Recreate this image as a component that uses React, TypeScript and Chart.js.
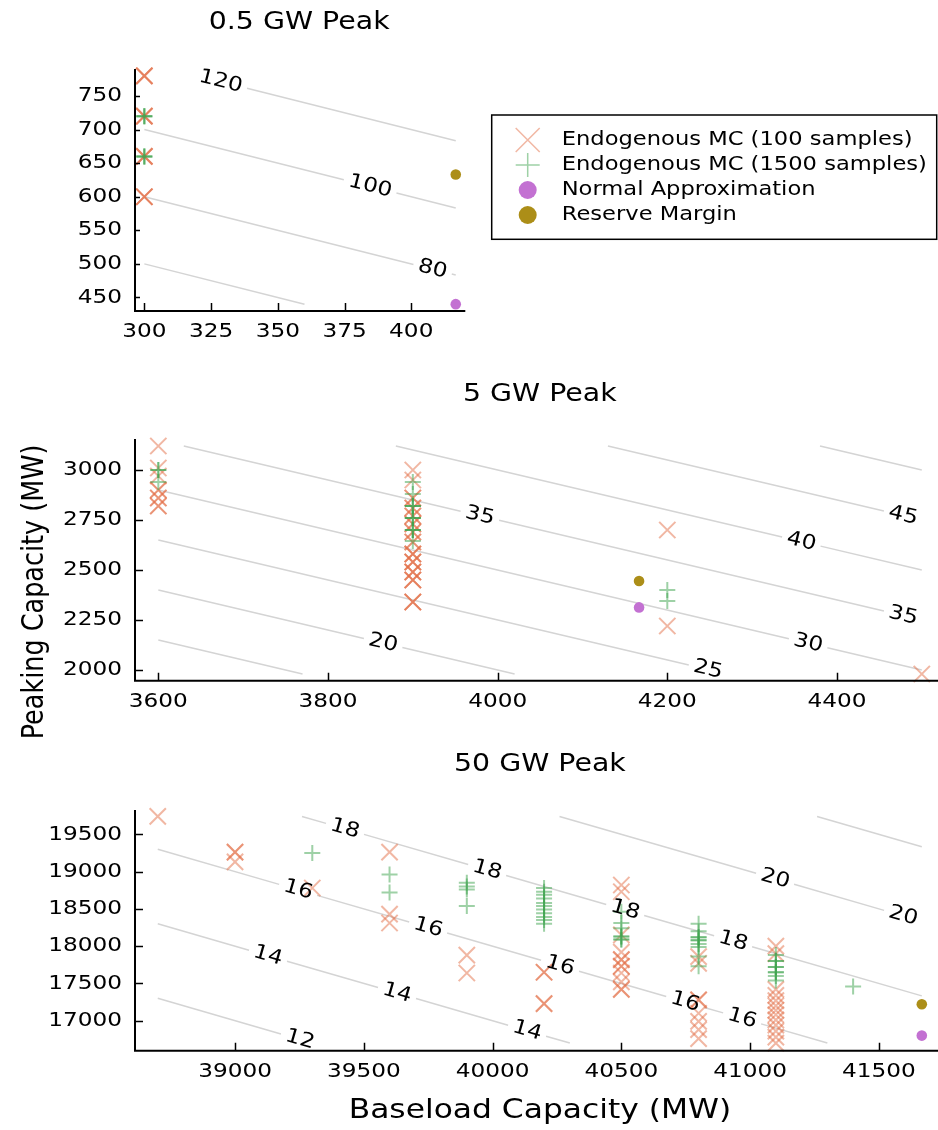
import React, { useEffect, useRef } from "react";
import { Chart, registerables } from "chart.js";

Chart.register(...registerables);

const FONT = '"DejaVu Sans", sans-serif';
const TEXT_SX = 1.16; // glyphs are drawn slightly widened
const LEGEND_SX = 1.13;
const MC100_COLOR = "rgba(227, 111, 71, 0.5)";
const MC1500_COLOR = "rgba(62, 164, 78, 0.5)";
const NORMAL_COLOR = "#C371D2";
const RESERVE_COLOR = "#AC8E18";
const CONTOUR_COLOR = "#d4d4d4";

const LEGEND_LABELS = [
  "Endogenous MC (100 samples)",
  "Endogenous MC (1500 samples)",
  "Normal Approximation",
  "Reserve Margin",
];
const X_TITLE = "Baseload Capacity (MW)";
const Y_TITLE = "Peaking Capacity (MW)";

// ---------- 0.5 GW peak ----------
const p1Title = "0.5 GW Peak";
const p1XTicks = [300, 325, 350, 375, 400];
const p1YTicks = [450, 500, 550, 600, 650, 700, 750];
const p1Mc100Base = [300, 300, 300, 300];
const p1Mc100Peak = [780, 720, 660, 600];
const p1Mc100Count = [3, 3, 3, 3];
const p1Mc1500Base = [300, 300];
const p1Mc1500Peak = [720, 660];
const p1Mc1500Count = [3, 3];
const p1Normal = [416.67, 440];
const p1Reserve = [416.67, 633];
const p1Levels = [60, 80, 100, 120];
const p1From = [[300, 500], [300, 600], [300, 700], [320, 780]];
const p1To = [[360, 440], [416.67, 483.33], [416.67, 583.33], [416.67, 683.33]];
const p1LabelAt = [[], [408], [384.6], [328.6]];

// ---------- 5 GW peak ----------
const p2Title = "5 GW Peak";
const p2XTicks = [3600, 3800, 4000, 4200, 4400];
const p2YTicks = [2000, 2250, 2500, 2750, 3000];
const p2Mc100Base = [
  3600, 3600, 3600, 3600, 3600, 3600,
  3900, 3900, 3900, 3900, 3900, 3900, 3900, 3900, 3900, 3900, 3900, 3900, 3900,
  4200, 4200, 4500,
];
const p2Mc100Peak = [
  3120, 3010, 2970, 2900, 2860, 2820,
  3000, 2950, 2860, 2810, 2770, 2730, 2690, 2640, 2580, 2540, 2490, 2450, 2340,
  2700, 2220, 1980,
];
const p2Mc100Count = [
  1, 1, 1, 2, 2, 2,
  1, 1, 2, 2, 2, 2, 2, 2, 3, 3, 3, 3, 3,
  1, 1, 1,
];
const p2Mc1500Base = [3600, 3600, 3900, 3900, 3900, 3900, 3900, 3900, 4200, 4200];
const p2Mc1500Peak = [3000, 2940, 2940, 2880, 2820, 2760, 2700, 2645, 2400, 2345];
const p2Mc1500Count = [2, 1, 1, 1, 3, 3, 3, 1, 1, 1];
const p2Normal = [4166.7, 2313];
const p2Reserve = [4166.7, 2445];
const p2Levels = [15, 20, 25, 30, 35, 40, 45, 50];
const p2From = [
  [3600, 2150], [3600, 2400], [3600, 2650], [3600, 2900],
  [3630, 3120], [3880, 3120], [4130, 3120], [4380, 3120],
];
const p2To = [
  [3770, 1980], [4020, 1980], [4270, 1980], [4500, 2000],
  [4500, 2250], [4500, 2500], [4500, 2750], [4500, 3000],
];
const p2LabelAt = [[], [3865], [4248], [4366], [3979, 4478], [4358], [4478], []];

// ---------- 50 GW peak ----------
const p3Title = "50 GW Peak";
const p3XTicks = [39000, 39500, 40000, 40500, 41000, 41500];
const p3YTicks = [17000, 17500, 18000, 18500, 19000, 19500];
const p3Mc100Base = [
  38700, 39000, 39000, 39300, 39600, 39600, 39600, 39900, 39900, 40200, 40200,
  40500, 40500, 40500, 40500, 40500, 40500, 40500, 40500, 40500,
  40800, 40800, 40800, 40800, 40800, 40800, 40800,
  41100, 41100, 41100, 41100, 41100, 41100, 41100, 41100, 41100, 41100, 41100, 41100, 41100,
];
const p3Mc100Peak = [
  19740, 19260, 19130, 18780, 19260, 18430, 18310, 17880, 17640, 17650, 17230,
  18820, 18730, 18150, 17920, 17820, 17730, 17640, 17520, 17420,
  17860, 17770, 17280, 17100, 16990, 16880, 16760,
  18000, 17900, 17420, 17340, 17270, 17200, 17140, 17080, 17010, 16940, 16860, 16780, 16700,
];
const p3Mc100Count = [
  1, 2, 1, 1, 1, 1, 1, 1, 1, 2, 2,
  1, 1, 1, 1, 2, 2, 1, 1, 2,
  1, 1, 2, 1, 1, 1, 1,
  1, 1, 1, 1, 1, 1, 1, 1, 1, 1, 1, 1, 1,
];
const p3Mc1500Base = [
  39300, 39600, 39600, 39900, 39900, 39900, 39900,
  40200, 40200, 40200, 40200, 40200, 40200, 40200, 40200, 40200, 40200, 40200,
  40500, 40500, 40500, 40500, 40500,
  40800, 40800, 40800, 40800, 40800, 40800, 40800, 40800,
  41100, 41100, 41100, 41100, 41100, 41100, 41400,
];
const p3Mc1500Peak = [
  19250, 18960, 18720, 18850, 18800, 18760, 18540,
  18780, 18730, 18690, 18640, 18580, 18540, 18490, 18440, 18390, 18350, 18300,
  18460, 18310, 18240, 18130, 18090,
  18300, 18200, 18120, 18080, 18030, 17990, 17860, 17730,
  17880, 17800, 17720, 17650, 17600, 17540, 17460,
];
const p3Mc1500Count = [
  1, 1, 1, 1, 1, 1, 1,
  1, 1, 1, 1, 1, 1, 1, 1, 1, 1, 1,
  1, 1, 1, 2, 2,
  1, 1, 2, 2, 1, 1, 1, 1,
  1, 2, 2, 2, 1, 1, 1,
];
const p3Normal = [41666.7, 16800];
const p3Reserve = [41666.7, 17220];
const p3Levels = [12, 14, 16, 18, 20, 22];
const p3From = [
  [38700, 17300], [38700, 18300], [38700, 19300],
  [39260, 19740], [40260, 19740], [41260, 19740],
];
const p3To = [
  [39300, 16700], [40300, 16700], [41300, 16700],
  [41666.7, 17333.3], [41666.7, 18333.3], [41666.7, 19333.3],
];
const p3LabelAt = [
  [39252], [39128, 39629, 40134], [39245, 39750, 40262, 40748, 40969],
  [39427, 39979, 40515, 40934], [41097, 41594], [],
];

type Pt = { x: number; y: number };

function expand(xs: number[], ys: number[], ns: number[]): Pt[] {
  const out: Pt[] = [];
  xs.forEach((x, i) => {
    for (let k = 0; k < ns[i]; k++) out.push({ x, y: ys[i] });
  });
  return out;
}

function contours(levels: number[], from: number[][], to: number[][], at: number[][]) {
  return levels.map((level, i) => ({ level, from: from[i], to: to[i], labelsAt: at[i] }));
}

const CANVAS_W = 960;
const X_AXIS_H = 40;

const panels = [
  {
    title: p1Title, top: 0, height: 360, titleY: 23,
    area: { left: 135, top: 69, bottom: 311, right: 463.3 },
    xRange: [296.5, 419.5], yRange: [429.8, 790.2],
    xTicks: p1XTicks, yTicks: p1YTicks, yTickLen: 5, xTickLen: 8,
    mc100: expand(p1Mc100Base, p1Mc100Peak, p1Mc100Count),
    mc1500: expand(p1Mc1500Base, p1Mc1500Peak, p1Mc1500Count),
    normal: p1Normal, reserve: p1Reserve,
    contours: contours(p1Levels, p1From, p1To, p1LabelAt),
    legend: true, yTitle: false, xTitle: false,
  },
  {
    title: p2Title, top: 360, height: 400, titleY: 35,
    area: { left: 135, top: 79, bottom: 320.7, right: 944.7 },
    xRange: [3572.5, 4527], yRange: [1946.5, 3155],
    xTicks: p2XTicks, yTicks: p2YTicks, yTickLen: 8, xTickLen: 8,
    mc100: expand(p2Mc100Base, p2Mc100Peak, p2Mc100Count),
    mc1500: expand(p2Mc1500Base, p2Mc1500Peak, p2Mc1500Count),
    normal: p2Normal, reserve: p2Reserve,
    contours: contours(p2Levels, p2From, p2To, p2LabelAt),
    legend: false, yTitle: true, xTitle: false,
  },
  {
    title: p3Title, top: 730, height: 400, titleY: 35,
    area: { left: 135, top: 80, bottom: 320.7, right: 944.8 },
    xRange: [38611.6, 41756], yRange: [16597.6, 19826],
    xTicks: p3XTicks, yTicks: p3YTicks, yTickLen: 8, xTickLen: 8,
    mc100: expand(p3Mc100Base, p3Mc100Peak, p3Mc100Count),
    mc1500: expand(p3Mc1500Base, p3Mc1500Peak, p3Mc1500Count),
    normal: p3Normal, reserve: p3Reserve,
    contours: contours(p3Levels, p3From, p3To, p3LabelAt),
    legend: false, yTitle: false, xTitle: true,
  },
];

type Panel = (typeof panels)[number];

// Text helper: widened glyphs around an anchor point.
function drawText(
  ctx: CanvasRenderingContext2D,
  text: string,
  x: number,
  y: number,
  align: CanvasTextAlign,
  sx: number = TEXT_SX
) {
  ctx.save();
  ctx.translate(x, y);
  ctx.scale(sx, 1);
  ctx.textAlign = align;
  ctx.textBaseline = "middle";
  ctx.fillText(text, 0, 0);
  ctx.restore();
}

const decorPlugin = {
  id: "decor",
  beforeDatasetsDraw(chart: any) {
    const p: Panel = chart.options.plugins.decor.panel;
    const { ctx } = chart;
    const x = chart.scales.x;
    const y = chart.scales.y;
    ctx.save();
    ctx.strokeStyle = CONTOUR_COLOR;
    ctx.lineWidth = 1.5;
    ctx.font = `20px ${FONT}`;
    p.contours.forEach((c) => {
      const x0 = x.getPixelForValue(c.from[0]);
      const y0 = y.getPixelForValue(c.from[1]);
      const x1 = x.getPixelForValue(c.to[0]);
      const y1 = y.getPixelForValue(c.to[1]);
      const len = Math.hypot(x1 - x0, y1 - y0);
      const ux = (x1 - x0) / len;
      const uy = (y1 - y0) / len;
      const half = (ctx.measureText(String(c.level)).width * TEXT_SX) / 2 + 5;
      const gaps = c.labelsAt.map((lx) => (x.getPixelForValue(lx) - x0) / ux).sort((a, b) => a - b);
      const segs: number[][] = [];
      let s = 0;
      gaps.forEach((g) => {
        if (g - half > s) segs.push([s, g - half]);
        s = Math.max(s, g + half);
      });
      if (s < len) segs.push([s, len]);
      ctx.beginPath();
      segs.forEach(([a, b]) => {
        ctx.moveTo(x0 + ux * a, y0 + uy * a);
        ctx.lineTo(x0 + ux * b, y0 + uy * b);
      });
      ctx.stroke();
    });
    ctx.restore();
  },
  afterDatasetsDraw(chart: any) {
    const p: Panel = chart.options.plugins.decor.panel;
    const { ctx, chartArea } = chart;
    const x = chart.scales.x;
    const y = chart.scales.y;
    ctx.save();
    ctx.fillStyle = "#000";
    // contour level labels, rotated along their line
    ctx.font = `20px ${FONT}`;
    p.contours.forEach((c) => {
      const x0 = x.getPixelForValue(c.from[0]);
      const y0 = y.getPixelForValue(c.from[1]);
      const x1 = x.getPixelForValue(c.to[0]);
      const y1 = y.getPixelForValue(c.to[1]);
      const ang = Math.atan2(y1 - y0, x1 - x0);
      c.labelsAt.forEach((lx) => {
        const px = x.getPixelForValue(lx);
        const py = y0 + (px - x0) * Math.tan(ang);
        ctx.save();
        ctx.translate(px, py);
        ctx.rotate(ang);
        drawText(ctx, String(c.level), 0, 0, "center");
        ctx.restore();
      });
    });
    // tick labels
    ctx.font = `20px ${FONT}`;
    p.xTicks.forEach((v) => drawText(ctx, String(v), x.getPixelForValue(v), chartArea.bottom + 21, "center"));
    p.yTicks.forEach((v) => drawText(ctx, String(v), chartArea.left - 13, y.getPixelForValue(v), "right"));
    // axis frame with inward ticks
    ctx.strokeStyle = "#000";
    ctx.lineWidth = 2;
    ctx.beginPath();
    ctx.moveTo(chartArea.left, chartArea.top);
    ctx.lineTo(chartArea.left, chartArea.bottom);
    ctx.lineTo(chartArea.right + 2, chartArea.bottom);
    ctx.stroke();
    ctx.lineWidth = 1.5;
    ctx.beginPath();
    p.xTicks.forEach((v) => {
      const px = Math.round(x.getPixelForValue(v)) + 0.5;
      ctx.moveTo(px, chartArea.bottom);
      ctx.lineTo(px, chartArea.bottom - p.xTickLen);
    });
    p.yTicks.forEach((v) => {
      const py = Math.round(y.getPixelForValue(v)) + 0.5;
      ctx.moveTo(chartArea.left, py);
      ctx.lineTo(chartArea.left + p.yTickLen, py);
    });
    ctx.stroke();
    ctx.restore();
  },
  afterDraw(chart: any) {
    const p: Panel = chart.options.plugins.decor.panel;
    const { ctx, chartArea } = chart;
    ctx.save();
    ctx.fillStyle = "#000";
    ctx.font = `24.5px ${FONT}`;
    drawText(ctx, p.title, (chartArea.left + chartArea.right) / 2, p.titleY, "center");

    if (p.yTitle) {
      ctx.font = `25.5px ${FONT}`;
      ctx.save();
      ctx.translate(35, 592 - p.top);
      ctx.rotate(-Math.PI / 2);
      ctx.scale(1, TEXT_SX);
      ctx.textAlign = "center";
      ctx.textBaseline = "middle";
      ctx.fillText(Y_TITLE, 0, 0);
      ctx.restore();
    }
    if (p.xTitle) {
      ctx.font = `27px ${FONT}`;
      drawText(ctx, X_TITLE, (chartArea.left + chartArea.right) / 2, 1111 - p.top, "center");
    }
    if (p.legend) {
      const bx = 491.7, by = 115, bw = 445, bh = 124.3;
      ctx.fillStyle = "#fff";
      ctx.fillRect(bx, by, bw, bh);
      ctx.strokeStyle = "#000";
      ctx.lineWidth = 1.5;
      ctx.strokeRect(bx, by, bw, bh);
      const rows = [140, 165, 190, 215];
      const mx = 527.7;
      ctx.lineWidth = 1.5;
      ctx.strokeStyle = MC100_COLOR;
      ctx.beginPath();
      ctx.moveTo(mx - 12, rows[0] - 12);
      ctx.lineTo(mx + 12, rows[0] + 12);
      ctx.moveTo(mx + 12, rows[0] - 12);
      ctx.lineTo(mx - 12, rows[0] + 12);
      ctx.stroke();
      ctx.strokeStyle = MC1500_COLOR;
      ctx.beginPath();
      ctx.moveTo(mx - 12, rows[1]);
      ctx.lineTo(mx + 12, rows[1]);
      ctx.moveTo(mx, rows[1] - 12);
      ctx.lineTo(mx, rows[1] + 12);
      ctx.stroke();
      ctx.fillStyle = NORMAL_COLOR;
      ctx.beginPath();
      ctx.arc(mx, rows[2], 9, 0, Math.PI * 2);
      ctx.fill();
      ctx.fillStyle = RESERVE_COLOR;
      ctx.beginPath();
      ctx.arc(mx, rows[3], 9, 0, Math.PI * 2);
      ctx.fill();
      ctx.fillStyle = "#000";
      ctx.font = `20px ${FONT}`;
      LEGEND_LABELS.forEach((t, i) => drawText(ctx, t, 561.7, rows[i], "left", LEGEND_SX));
    }
    ctx.restore();
  },
};

function PanelChart({ panel }: { panel: Panel }) {
  const ref = useRef<HTMLCanvasElement | null>(null);
  useEffect(() => {
    if (!ref.current) return;
    const a = panel.area;
    const chart = new Chart(ref.current, {
      type: "scatter",
      data: {
        datasets: [
          {
            label: LEGEND_LABELS[0],
            data: panel.mc100,
            pointStyle: "crossRot",
            pointRadius: 11.5,
            pointBorderColor: MC100_COLOR,
            pointBackgroundColor: MC100_COLOR,
            pointBorderWidth: 2,
            order: 4,
            clip: false,
          },
          {
            label: LEGEND_LABELS[1],
            data: panel.mc1500,
            pointStyle: "cross",
            pointRadius: 8,
            pointBorderColor: MC1500_COLOR,
            pointBackgroundColor: MC1500_COLOR,
            pointBorderWidth: 2,
            order: 3,
            clip: false,
          },
          {
            label: LEGEND_LABELS[2],
            data: [{ x: panel.normal[0], y: panel.normal[1] }],
            pointStyle: "circle",
            pointRadius: 5.3,
            pointBorderWidth: 0,
            pointBackgroundColor: NORMAL_COLOR,
            pointBorderColor: NORMAL_COLOR,
            order: 2,
            clip: false,
          },
          {
            label: LEGEND_LABELS[3],
            data: [{ x: panel.reserve[0], y: panel.reserve[1] }],
            pointStyle: "circle",
            pointRadius: 5.3,
            pointBorderWidth: 0,
            pointBackgroundColor: RESERVE_COLOR,
            pointBorderColor: RESERVE_COLOR,
            order: 1,
            clip: false,
          },
        ],
      } as any,
      options: {
        responsive: false,
        animation: false,
        devicePixelRatio: 1,
        events: [],
        layout: {
          padding: {
            left: 0,
            top: a.top,
            right: CANVAS_W - a.right,
            bottom: panel.height - a.bottom - X_AXIS_H,
          },
        },
        plugins: {
          legend: { display: false },
          tooltip: { enabled: false },
          decor: { panel },
        } as any,
        scales: {
          x: {
            type: "linear",
            min: panel.xRange[0],
            max: panel.xRange[1],
            afterFit: (s: any) => {
              s.height = X_AXIS_H;
            },
            grid: { display: false, drawTicks: false },
            border: { display: false },
            ticks: { display: false },
          },
          y: {
            type: "linear",
            min: panel.yRange[0],
            max: panel.yRange[1],
            afterFit: (s: any) => {
              s.width = a.left;
            },
            grid: { display: false, drawTicks: false },
            border: { display: false },
            ticks: { display: false },
          },
        },
      } as any,
      plugins: [decorPlugin as any],
    });
    return () => chart.destroy();
  }, [panel]);
  return (
    <canvas
      ref={ref}
      width={CANVAS_W}
      height={panel.height}
      style={{ position: "absolute", left: 0, top: panel.top, width: CANVAS_W, height: panel.height }}
    />
  );
}

export default function App() {
  return (
    <div
      style={{
        position: "absolute",
        left: 0,
        top: 0,
        width: 938,
        height: 1130,
        overflow: "hidden",
        background: "#fff",
      }}
    >
      {panels.map((p) => (
        <PanelChart key={p.title} panel={p} />
      ))}
    </div>
  );
}
